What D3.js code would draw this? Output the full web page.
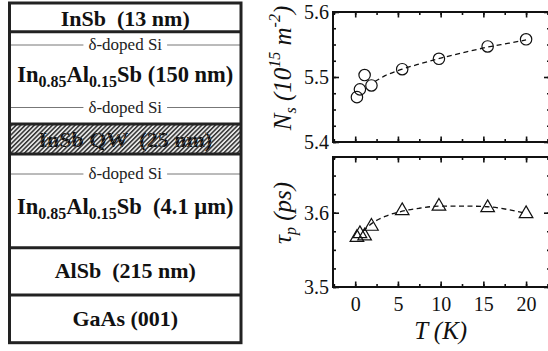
<!DOCTYPE html>
<html>
<head>
<meta charset="utf-8">
<script src="https://cdn.jsdelivr.net/npm/d3@7"></script>
<style>
  body { margin: 0; background: #fff; }
  svg { display: block; }
  svg text { font-family: "Liberation Serif", "Times New Roman", Times, serif; }
</style>
</head>
<body>
<svg id="fig" width="548" height="351"></svg>
<script>
// measured data
const T = [0.2, 0.55, 1.1, 1.9, 5.5, 9.8, 15.5, 20];
const Ns = [5.469, 5.481, 5.503, 5.487, 5.512, 5.528, 5.547, 5.558];
const tau = [3.568, 3.573, 3.570, 3.583, 3.604, 3.610, 3.608, 3.600];

// dashed guide curves
const fitNsT = [2.3, 3.5, 5.5, 7.5, 10, 12.5, 15.5, 18, 20];
const fitNs = [5.493, 5.502, 5.512, 5.520, 5.529, 5.537, 5.546, 5.552, 5.557];
const fitTauT = [0.9, 2, 3.5, 5.5, 7.5, 10, 12.5, 15.5, 18, 20];
const fitTau = [3.575, 3.586, 3.595, 3.602, 3.606, 3.609, 3.609, 3.608, 3.604, 3.599];

const xTicks = [0, 5, 10, 15, 20];
const nsTicks = [5.4, 5.5, 5.6];
const tauTicks = [3.5, 3.6];

var svg = d3.select("#fig");
var defs = svg.append("defs");

var hatch = defs.append("pattern").attr("id", "hatch").attr("patternUnits", "userSpaceOnUse")
  .attr("width", 3.2).attr("height", 3.2).attr("patternTransform", "rotate(45)");
hatch.append("rect").attr("width", 3.2).attr("height", 3.2).attr("fill", "#e6e6e6");
hatch.append("rect").attr("width", 1.5).attr("height", 3.2).attr("fill", "#333");

var hatchTxt = defs.append("pattern").attr("id", "hatchTxt").attr("patternUnits", "userSpaceOnUse")
  .attr("width", 3.2).attr("height", 3.2).attr("patternTransform", "rotate(45)");
hatchTxt.append("rect").attr("width", 3.2).attr("height", 3.2).attr("fill", "#111");
hatchTxt.append("rect").attr("width", 0.5).attr("height", 3.2).attr("fill", "#888");

// ---------- left: layer stack ----------
var L = { x0: 9.5, x1: 241 };
var bounds = [3, 31.7, 124, 154, 247.7, 295, 342.7];
var g = svg.append("g");

g.append("rect").attr("x", L.x0).attr("y", bounds[2]).attr("width", L.x1 - L.x0)
  .attr("height", bounds[3] - bounds[2]).attr("fill", "url(#hatch)");

var cx = (L.x0 + L.x1) / 2;

function deltaLine(y) {
  var t = g.append("text").attr("x", cx).attr("y", y + 5).attr("text-anchor", "middle")
    .attr("font-size", 17).attr("fill", "#222").text("δ-doped Si");
  var w = t.node().getComputedTextLength();
  g.append("line").attr("x1", L.x0).attr("x2", cx - w / 2 - 5).attr("y1", y).attr("y2", y)
    .attr("stroke", "#777").attr("stroke-width", 1);
  g.append("line").attr("x1", cx + w / 2 + 5).attr("x2", L.x1).attr("y1", y).attr("y2", y)
    .attr("stroke", "#777").attr("stroke-width", 1);
}

function boldLabel(y, txt) {
  return g.append("text").attr("x", cx).attr("y", y).attr("text-anchor", "middle")
    .attr("font-size", 22).attr("font-weight", "bold").attr("fill", "#111").text(txt);
}

function alloyLabel(y, tail) {
  var t = g.append("text").attr("x", cx).attr("y", y).attr("text-anchor", "middle")
    .attr("font-size", 22.5).attr("font-weight", "bold").attr("fill", "#111");
  t.append("tspan").text("In");
  t.append("tspan").attr("font-size", 16).attr("dy", 5).text("0.85");
  t.append("tspan").attr("dy", -5).text("Al");
  t.append("tspan").attr("font-size", 16).attr("dy", 5).text("0.15");
  t.append("tspan").attr("dy", -5).text("Sb" + tail);
}

boldLabel(25.5, "InSb\u00a0 (13 nm)");
deltaLine(45);
alloyLabel(82, " (150 nm)");
deltaLine(107.5);
boldLabel(146.5, "InSb QW\u00a0 (25 nm)").attr("fill", "url(#hatchTxt)");
deltaLine(174);
alloyLabel(214, "\u00a0 (4.1 µm)");
boldLabel(277.5, "AlSb\u00a0 (215 nm)");
boldLabel(325.5, "GaAs (001)");

g.append("rect").attr("x", L.x0).attr("y", bounds[0]).attr("width", L.x1 - L.x0)
  .attr("height", bounds[6] - bounds[0]).attr("fill", "none").attr("stroke", "#222").attr("stroke-width", 3);
bounds.slice(1, 6).forEach(function (b) {
  g.append("line").attr("x1", L.x0).attr("x2", L.x1).attr("y1", b).attr("y2", b)
    .attr("stroke", "#222").attr("stroke-width", 3);
});

// ---------- right: plots ----------
var P = { left: 333, right: 550 };
var x = d3.scaleLinear().domain([-2.6, 22.8]).range([P.left, P.right]);
var yTop = d3.scaleLinear().domain([5.4, 5.6]).range([142, 12]);
var yBot = d3.scaleLinear().domain([3.5, 3.675]).range([287, 157]);

function minorTicks(lo, hi, step) {
  var out = [];
  for (var v = lo; v <= hi + 1e-9; v += step) out.push(+v.toFixed(4));
  return out;
}

function panel(y, yMajor, yMinorStep, showX) {
  var pg = svg.append("g");
  var d = y.domain();
  var yb = y.range()[0], yt = y.range()[1];
  var xMinor = minorTicks(-2.5, 22.5, 2.5);
  var yMinor = minorTicks(d[0], d[1], yMinorStep);

  [[d3.axisBottom, yb], [d3.axisTop, yt]].forEach(function (a) {
    pg.append("g").attr("transform", "translate(0," + a[1] + ")")
      .call(a[0](x).tickValues(xMinor).tickSizeInner(-3).tickSizeOuter(0).tickFormat(""));
    pg.append("g").attr("transform", "translate(0," + a[1] + ")")
      .call(a[0](x).tickValues(xTicks).tickSizeInner(-5.5).tickSizeOuter(0).tickFormat(""));
  });
  pg.append("g").attr("transform", "translate(" + P.left + ",0)")
    .call(d3.axisLeft(y).tickValues(yMinor).tickSizeInner(-3).tickSizeOuter(0).tickFormat(""));
  pg.append("g").attr("transform", "translate(" + P.left + ",0)")
    .call(d3.axisLeft(y).tickValues(yMajor).tickSizeInner(-6).tickSizeOuter(0)
      .tickPadding(4).tickFormat(d3.format(".1f")));
  pg.append("g").attr("transform", "translate(" + P.right + ",0)")
    .call(d3.axisRight(y).tickValues(yMinor).tickSizeInner(-3).tickSizeOuter(0).tickFormat(""));
  pg.append("g").attr("transform", "translate(" + P.right + ",0)")
    .call(d3.axisRight(y).tickValues(yMajor).tickSizeInner(-6).tickSizeOuter(0).tickFormat(""));

  if (showX) {
    pg.append("g").attr("transform", "translate(0," + yb + ")")
      .call(d3.axisBottom(x).tickValues(xTicks).tickSize(0).tickPadding(10).tickFormat(d3.format("d")));
  }

  pg.selectAll("g").attr("font-family", null);
  pg.selectAll(".domain").remove();
  pg.selectAll(".tick line").attr("stroke", "#111").attr("stroke-width", 1.6);
  pg.selectAll(".tick text").attr("font-size", 20).attr("fill", "#111");

  pg.append("rect").attr("x", P.left).attr("y", yt).attr("width", P.right - P.left)
    .attr("height", yb - yt).attr("fill", "none").attr("stroke", "#111").attr("stroke-width", 2);
  return pg;
}

var topG = panel(yTop, nsTicks, 0.025, false);
var botG = panel(yBot, tauTicks, 0.025, true);

var line = d3.line().curve(d3.curveMonotoneX);

topG.append("path")
  .attr("d", line(fitNsT.map(function (t, i) { return [x(t), yTop(fitNs[i])]; })))
  .attr("fill", "none").attr("stroke", "#111").attr("stroke-width", 1.3).attr("stroke-dasharray", "5,3.5");
topG.selectAll("circle.pt").data(T).enter().append("circle").attr("class", "pt")
  .attr("cx", function (t) { return x(t); })
  .attr("cy", function (t, i) { return yTop(Ns[i]); })
  .attr("r", 5.7).attr("fill", "none").attr("stroke", "#111").attr("stroke-width", 1.2);

botG.append("path")
  .attr("d", line(fitTauT.map(function (t, i) { return [x(t), yBot(fitTau[i])]; })))
  .attr("fill", "none").attr("stroke", "#111").attr("stroke-width", 1.3).attr("stroke-dasharray", "5,3.5");
var tri = d3.symbol().type(d3.symbolTriangle).size(80);
botG.selectAll("path.pt").data(T).enter().append("path").attr("class", "pt")
  .attr("transform", function (t, i) { return "translate(" + x(t) + "," + (yBot(tau[i]) + 1) + ")"; })
  .attr("d", tri).attr("fill", "none").attr("stroke", "#111").attr("stroke-width", 1.2);

// axis titles
var ns = svg.append("text").attr("transform", "translate(291,68) rotate(-90)")
  .attr("text-anchor", "middle").attr("font-size", 25).attr("font-style", "italic").attr("fill", "#111");
ns.append("tspan").text("N");
ns.append("tspan").attr("font-size", 16).attr("dy", 5).text("s");
ns.append("tspan").attr("dy", -5).text(" (10");
ns.append("tspan").attr("font-size", 16).attr("dy", -11).text("15");
ns.append("tspan").attr("dy", 11).text(" m");
ns.append("tspan").attr("font-size", 16).attr("dy", -11).text("-2");
ns.append("tspan").attr("dy", 11).text(")");

var tp = svg.append("text").attr("transform", "translate(291,213) rotate(-90)")
  .attr("text-anchor", "middle").attr("font-size", 25).attr("font-style", "italic").attr("fill", "#111");
tp.append("tspan").text("τ");
tp.append("tspan").attr("font-size", 16).attr("dy", 5).text("p");
tp.append("tspan").attr("dy", -5).text(" (ps)");

svg.append("text").attr("x", x(10)).attr("y", 339).attr("text-anchor", "middle")
  .attr("font-size", 25).attr("font-style", "italic").attr("fill", "#111").text("T (K)");
</script>
</body>
</html>
